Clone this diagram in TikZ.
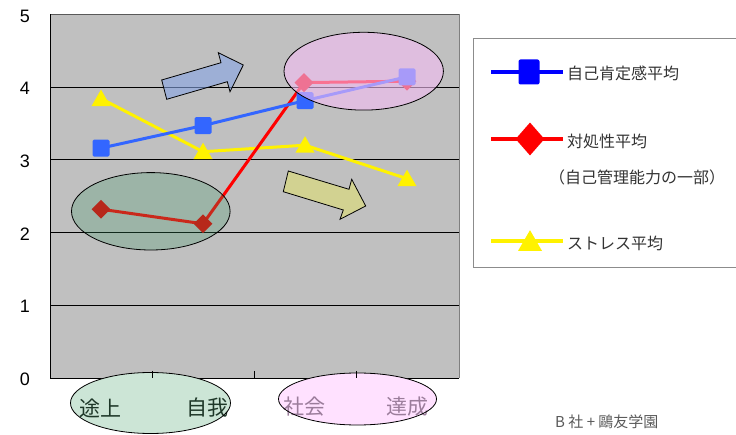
\documentclass[tikz,border=0pt]{standalone}
\usepackage{fontspec}
\setmainfont{Liberation Sans}
\newfontfamily\jp{Noto Sans CJK JP}
\usetikzlibrary{shapes.geometric}
\definecolor{plotgray}{RGB}{192,192,192}
\definecolor{serB}{RGB}{51,102,255}
\definecolor{arrB}{RGB}{134,165,229}
\definecolor{arrO}{RGB}{222,222,114}
\definecolor{ovG}{RGB}{60,150,100}
\definecolor{ovP}{RGB}{245,190,245}
\definecolor{botG}{RGB}{204,229,214}
\definecolor{botP}{RGB}{255,225,255}
\definecolor{txG}{RGB}{30,55,40}
\definecolor{txP}{RGB}{155,125,155}
\tikzset{
  gridln/.style={black, line width=0.8pt},
  bline/.style={serB, line width=3pt},
  rline/.style={red, line width=3pt},
  yline/.style={yellow, line width=3pt},
  bsq/.style={rectangle, fill=serB, minimum size=17pt, inner sep=0pt, rounded corners=1.5pt},
  rdm/.style={diamond, fill=red!90!black, minimum width=19pt, minimum height=19pt, inner sep=0pt},
  ytri/.style={regular polygon, regular polygon sides=3, fill=yellow, minimum size=22pt, inner sep=0pt},
  blockarrow/.style={draw=black, line width=0.8pt, fill opacity=0.6, line join=miter},
  ylab/.style={font=\fontsize{18}{20}\selectfont, inner sep=0pt},
  leglab/.style={font=\jp\fontsize{16}{18}\selectfont, text=black!80, anchor=west, inner sep=0pt},
  catlab/.style={font=\jp\fontsize{21}{24}\selectfont, inner sep=0pt},
  ovl/.style={draw=black, line width=0.8pt}
}
\begin{document}
\begin{tikzpicture}[x=1pt,y=-1pt]
\useasboundingbox (0,0) rectangle (736,435);
% plot area
\fill[plotgray] (50,14.25) rectangle (459,378);
\foreach \v in {1,2,3,4} \draw[gridln] (50,{378-72.75*\v}) -- (459,{378-72.75*\v});
\draw[black!65, line width=0.8pt] (50,14.25) -- (459,14.25);
\draw[gray, line width=0.8pt] (459,14.25) -- (459,378);
\draw[black, line width=1pt] (50,14.25) -- (50,378) -- (459,378);
% y labels
\node[ylab] (t5) at (25,16) {5};
\node[ylab] (t4) at (25,88.5) {4};
\node[ylab] (t3) at (25,161) {3};
\node[ylab] (t2) at (25,234) {2};
\node[ylab] (t1) at (25,306.5) {1};
\node[ylab] (t0) at (25,379.5) {0};
% yellow series
\coordinate (y1) at (101,98.6);
\coordinate (y2) at (203,151.7);
\coordinate (y3) at (305,145.2);
\coordinate (y4) at (407,178.7);
\draw[yline] (y1) -- (y2) -- (y3) -- (y4);
\foreach \i in {1,2,3,4} \node[ytri] (ym\i) at ([yshift=-2pt]y\i) {};
% red series
\coordinate (r1) at (101,209.2);
\coordinate (r2) at (203,223.8);
\coordinate (r3) at (304,82.6);
\coordinate (r4) at (407,81.2);
\draw[rline] (r1) -- (r2) -- (r3) -- (r4);
\foreach \i in {1,2,3,4} \node[rdm] (rm\i) at (r\i) {};
% blue series
\coordinate (b1) at (101,148.1);
\coordinate (b2) at (203,125.6);
\coordinate (b3) at (305,100.6);
\coordinate (b4) at (407,76.8);
\draw[bline] (b1) -- (b2) -- (b3) -- (b4);
\foreach \i in {1,2,3,4} \node[bsq] (bm\i) at (b\i) {};
% overlays in plot
\fill[ovG, fill opacity=0.27] (150.8,211.3) ellipse [x radius=79.3, y radius=38.7];
\draw[ovl] (150.8,211.3) ellipse [x radius=79.3, y radius=38.7];
\fill[ovP, fill opacity=0.6] (363.7,71.2) ellipse [x radius=79.7, y radius=38.9];
\draw[ovl] (363.7,71.2) ellipse [x radius=79.7, y radius=38.9];
% block arrows
\draw[blockarrow, fill=arrB] (161.7,80) -- (221,62.7) -- (218.3,52.7) -- (243.3,65) -- (230,91.7) -- (227.3,81.7) -- (166.7,99.3) -- cycle;
\draw[blockarrow, fill=arrO] (288.3,171) -- (349,189.3) -- (351.7,179.3) -- (365.7,206) -- (340,219.3) -- (343.3,210) -- (283.3,191.7) -- cycle;
% bottom category ellipses
\fill[botG] (150.5,403) ellipse [x radius=80, y radius=30.5];
\fill[botP] (357.5,399) ellipse [x radius=79, y radius=26];
\node[catlab, text=txG] (c1) at (100.5,408) {途上};
\node[catlab, text=txG] (c2) at (207,408) {自我};
\node[catlab, text=txP] (c3) at (304,407) {社会};
\node[catlab, text=txP] (c4) at (407,407) {達成};
\draw[ovl] (150.5,403) ellipse [x radius=80, y radius=30.5];
\draw[ovl] (357.5,399) ellipse [x radius=79, y radius=26];
\foreach \x in {152.25,254.5,356.75} \draw[black, line width=0.8pt] (\x,371) -- (\x,378);
% legend
\draw[gray!90, line width=0.8pt] (473,38.3) rectangle (745,267.5);
\coordinate (la1) at (491,72);
\coordinate (la2) at (563,72);
\draw[blue, line width=3.5pt] (la1) -- (la2);
\node[rectangle, fill=blue, minimum width=21pt, minimum height=25pt, inner sep=0pt, rounded corners=2pt] (lam) at (529,72) {};
\node[leglab] (lat) at (567,73) {自己肯定感平均};
\coordinate (lr1) at (491,139);
\coordinate (lr2) at (563,139);
\draw[red, line width=3.5pt] (lr1) -- (lr2);
\node[diamond, fill=red, minimum width=29pt, minimum height=33pt, inner sep=0pt] (lrm) at (530,139) {};
\node[leglab] (lrt) at (567,141) {対処性平均};
\node[leglab] (lrt2) at (549,177) {（自己管理能力の一部）};
\coordinate (ly1) at (491,241);
\coordinate (ly2) at (563,241);
\draw[yellow, line width=3.5pt] (ly1) -- (ly2);
\node[regular polygon, regular polygon sides=3, fill=yellow, minimum size=27.7pt, inner sep=0pt] (lym) at (530,244) {};
\node[leglab] (lyt) at (567,243) {ストレス平均};
% credit
\node[font=\jp\fontsize{15}{17}\selectfont, text=black!65, anchor=west, inner sep=0pt] (cr) at (555,422) {B 社 + 鷗友学園};
\end{tikzpicture}
\end{document}
